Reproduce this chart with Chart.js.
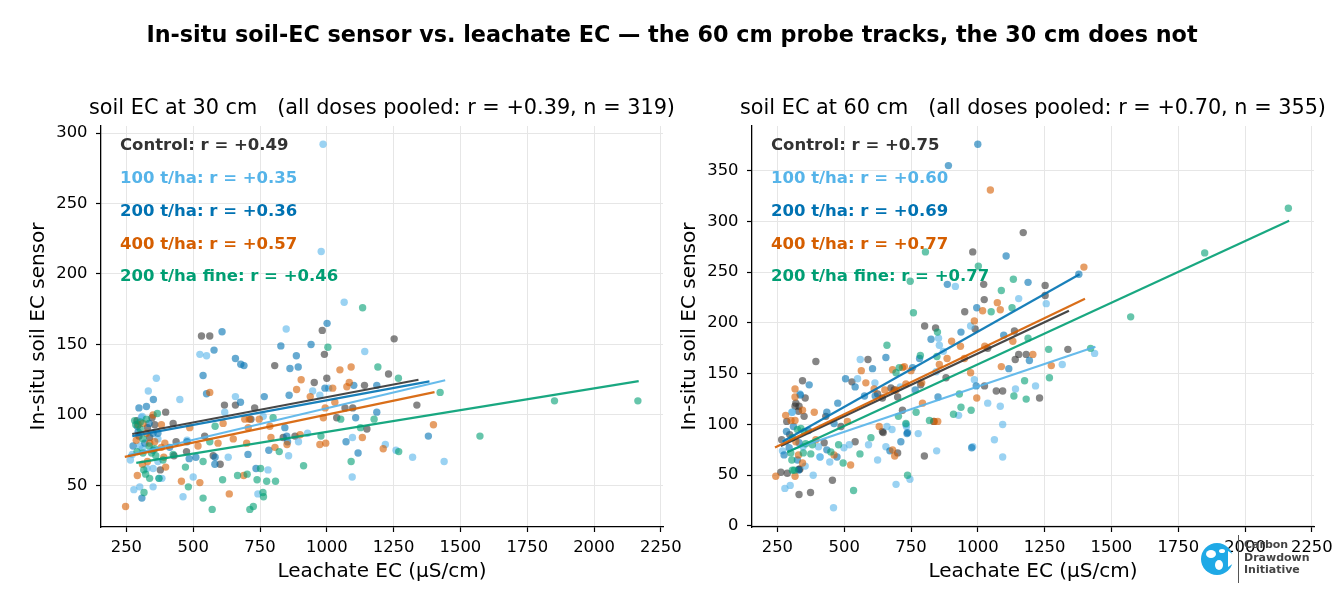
<!DOCTYPE html>
<html>
<head>
<meta charset="utf-8">
<script src="https://cdn.jsdelivr.net/npm/chart.js@4.4.1/dist/chart.umd.min.js"></script>
<style>
  html, body { margin: 0; padding: 0; background: #fff; }
  body { width: 1344px; height: 612px; position: relative; overflow: hidden; font-family: "DejaVu Sans", sans-serif; }
  .panel { position: absolute; top: 0; height: 612px; }
  #mainTitle { position: absolute; top: 21px; left: 0; width: 1344px; text-align: center;
    font: bold 22.3px "DejaVu Sans"; color: #000; z-index: 5; }
  #logo { position: absolute; left: 1199px; top: 534px; width: 140px; height: 52px; z-index: 5; }
  #logo .txt { position: absolute; left: 45px; top: 5px; font: 600 11px "DejaVu Sans"; line-height: 12.7px; color: #444; }
  #logo .bar { position: absolute; left: 39px; top: 1px; width: 1px; height: 48px; background: #555; }
</style>
</head>
<body>
<div id="mainTitle">In-situ soil-EC sensor vs. leachate EC — the 60 cm probe tracks, the 30 cm does not</div>
<div class="panel" style="left:0;width:700px"><canvas id="chart30" width="700" height="612"></canvas></div>
<div class="panel" style="left:672px;width:672px"><canvas id="chart60" width="672" height="612"></canvas></div>
<div id="logo">
  <svg width="40" height="50" style="position:absolute;left:0;top:0">
    <circle cx="18" cy="25" r="16" fill="#1fa9e6"/>
    <path d="M29 17 L35 21 L35 29 L29 33 Z" fill="#fff"/>
    <ellipse cx="12" cy="20" rx="5" ry="4" fill="#fff"/>
    <ellipse cx="20" cy="31" rx="4" ry="5" fill="#fff"/>
    <ellipse cx="23" cy="17" rx="3" ry="2" fill="#fff"/>
  </svg>
  <div class="bar"></div>
  <div class="txt">Carbon<br>Drawdown<br>Initiative</div>
</div>
<script>
// dose groups, in plotting order
const groupNames = ['Control', '100 t/ha', '200 t/ha', '400 t/ha', '200 t/ha fine'];
const groupColors = ['#333333', '#56B4E9', '#0072B2', '#D55E00', '#009E73'];

const xTicks = [250, 500, 750, 1000, 1250, 1500, 1750, 2000, 2250];
const yTicks30 = [50, 100, 150, 200, 250, 300];
const yTicks60 = [0, 50, 100, 150, 200, 250, 300, 350];

const rLabels30 = ['+0.49', '+0.35', '+0.36', '+0.57', '+0.46'];
const rLabels60 = ['+0.75', '+0.60', '+0.69', '+0.77', '+0.77'];

// [leachate EC, sensor EC] – 30 cm probe
const ctrl30 = [[983,160],[531,156],[562,156],[617,107],[658,107],[730,105],[805,135],[991,143],[953,123],[1000,126],[1231,129],[1141,121],[1068,105],[1097,105],[1037,98],[1150,90],[881,85],[837,84],[601,65],[475,74],[428,71],[436,81],[377,61],[425,94],[397,102],[543,85],[575,71],[716,97],[1252,154],[1337,107],[290,96],[329,91],[346,98],[356,93],[337,84],[297,85]];
const t100_30 = [[986,292],[979,216],[1065,180],[848,161],[525,143],[550,142],[1142,145],[362,126],[332,117],[450,111],[658,113],[618,102],[947,117],[974,114],[1007,119],[1095,56],[1096,84],[1219,79],[894,81],[857,71],[780,61],[742,44],[500,56],[462,42],[631,70],[383,55],[762,99],[928,87],[1321,70],[1439,67],[1259,75],[309,99],[368,83],[300,78],[477,82],[272,72],[265,68],[327,62],[350,62],[350,49],[300,49],[278,47],[306,98],[310,76],[368,67],[372,55]];
const t200_30 = [[1001,165],[608,159],[578,146],[828,149],[941,150],[658,140],[678,136],[690,135],[886,142],[862,133],[893,134],[537,128],[297,105],[325,106],[351,111],[550,115],[677,109],[766,113],[993,119],[859,114],[1101,121],[1187,121],[1108,98],[1187,102],[1072,81],[1117,73],[850,85],[783,75],[735,62],[582,70],[581,65],[510,70],[485,69],[477,81],[705,72],[843,91],[853,81],[291,92],[294,88],[350,87],[368,87],[275,78],[412,77],[308,41],[335,94],[1380,85],[319,80],[350,75]];
const t400_30 = [[562,116],[904,125],[887,118],[938,113],[1022,119],[1049,132],[1091,134],[1084,123],[1075,120],[1030,109],[994,105],[1133,84],[1211,76],[996,80],[974,79],[900,86],[851,79],[806,77],[791,84],[689,57],[635,44],[525,52],[456,53],[390,70],[397,63],[487,91],[612,94],[593,80],[650,83],[700,80],[518,78],[693,97],[710,97],[747,97],[706,91],[787,92],[987,98],[1399,93],[350,100],[312,94],[381,93],[325,87],[287,82],[356,81],[394,80],[381,77],[310,65],[291,57],[247,35],[294,93],[337,80],[329,67]];
const fine30 = [[1134,176],[1004,148],[1191,134],[1052,97],[1177,97],[1126,91],[978,85],[1091,67],[913,64],[822,74],[752,62],[775,53],[808,53],[761,45],[763,42],[725,35],[712,33],[702,58],[666,57],[571,33],[537,41],[482,49],[471,63],[537,67],[610,54],[372,55],[582,92],[562,81],[799,98],[1268,126],[1424,116],[1269,74],[739,54],[1852,110],[2164,110],[1573,85],[366,101],[302,95],[302,90],[312,83],[335,78],[312,73],[344,73],[360,71],[387,68],[425,72],[322,58],[337,55],[316,45],[285,93],[325,97],[356,76],[315,61],[290,74],[281,96]];

// 60 cm probe
const ctrl60 = [[1170,289],[981,270],[1022,238],[1024,223],[951,211],[801,197],[842,195],[990,194],[1137,192],[1181,169],[1140,164],[1153,169],[1037,175],[589,164],[394,162],[344,143],[354,126],[316,118],[350,108],[529,142],[675,136],[786,139],[881,146],[1025,138],[1069,133],[1093,133],[1252,237],[1252,227],[1337,174],[1231,126],[646,92],[625,130],[687,134],[643,126],[700,127],[718,114],[643,93],[700,72],[541,83],[456,45],[374,33],[331,31],[263,53],[287,52],[331,56],[319,121],[331,118],[329,113],[285,103],[296,90],[266,85],[334,56],[431,108],[488,98],[425,82],[800,69],[835,103]];
const t100_60 = [[916,236],[1153,224],[853,185],[973,197],[856,178],[871,172],[560,164],[306,112],[550,145],[710,137],[987,144],[1037,121],[1084,118],[1141,135],[1216,138],[928,109],[1256,219],[844,152],[1316,159],[1093,100],[1062,85],[731,100],[777,91],[615,141],[733,98],[660,98],[679,95],[656,78],[625,65],[591,80],[499,77],[460,18],[446,63],[409,68],[384,50],[298,40],[278,37],[334,130],[304,112],[281,83],[404,78],[346,78],[269,74],[410,68],[354,59],[519,80],[694,41],[746,46],[846,74],[981,78],[1093,68],[1437,170]];
const t200_60 = [[1000,376],[890,355],[1106,266],[886,238],[1188,240],[996,215],[825,184],[937,191],[1097,188],[1116,155],[782,165],[656,166],[369,139],[336,129],[435,112],[476,121],[505,145],[541,137],[606,155],[576,128],[766,134],[851,127],[994,138],[756,156],[737,92],[735,91],[712,83],[671,74],[473,68],[310,98],[366,94],[284,93],[331,82],[294,77],[275,70],[325,65],[329,55],[435,75],[462,101],[616,128],[977,77],[1378,248],[1193,163]];
const t400_60 = [[1047,331],[1073,220],[1018,212],[902,182],[987,202],[1131,182],[1206,169],[1088,157],[885,165],[316,135],[316,127],[281,109],[388,112],[564,153],[581,141],[612,135],[652,134],[694,134],[731,140],[790,141],[973,151],[996,126],[1084,213],[935,177],[950,165],[856,159],[725,157],[1026,177],[1275,158],[793,121],[837,103],[850,103],[718,156],[750,153],[631,98],[689,69],[524,60],[462,70],[244,49],[316,49],[344,114],[301,104],[316,104],[319,83],[394,85],[329,70],[344,62],[512,103],[681,154],[681,75],[1397,255]];
const fine60 = [[804,270],[1002,256],[747,241],[1133,243],[1088,232],[1128,215],[1050,211],[759,210],[849,191],[1188,185],[847,167],[785,168],[660,178],[931,130],[1135,128],[1181,125],[1175,143],[937,117],[975,114],[909,110],[706,156],[1265,174],[1268,146],[769,112],[819,104],[694,151],[703,108],[600,87],[559,71],[496,62],[535,35],[450,73],[479,80],[306,55],[325,95],[338,96],[350,93],[306,87],[356,81],[381,80],[300,72],[347,72],[375,71],[304,65],[313,55],[731,101],[737,50],[2162,313],[1849,269],[1572,206],[1422,175]];

// least-squares fit lines per group: [x0, y0, x1, y1]
const fit30 = [[272,86.5,1343,125.0],[256,71.4,1443,124.6],[272,85.0,1384,123.8],[244,70.2,1403,116.2],[287,66.0,2167,124.0]];
const fit60 = [[263,78.9,1341,212.0],[294,74.3,1440,176.5],[269,83.0,1381,248.0],[241,77.2,1401,223.8],[287,72.7,2165,300.7]];

function rgba(hex, a) {
  const n = parseInt(hex.slice(1), 16);
  return `rgba(${n >> 16},${(n >> 8) & 255},${n & 255},${a})`;
}

function buildDatasets(groups, fits) {
  const ds = [];
  groups.forEach((pts, i) => {
    ds.push({
      data: pts.map(p => ({x: p[0], y: p[1]})),
      backgroundColor: rgba(groupColors[i], 0.6),
      borderWidth: 0,
      pointRadius: 3.7,
      order: 20 - i
    });
  });
  fits.forEach((f, i) => {
    ds.push({
      data: [{x: f[0], y: f[1]}, {x: f[2], y: f[3]}],
      showLine: true,
      borderColor: rgba(groupColors[i], 0.9),
      borderWidth: 2.2,
      pointRadius: 0,
      order: 10 - i
    });
  });
  return ds;
}

const panelText = {
  id: 'panelText',
  afterDraw(chart, args, opts) {
    const {ctx, chartArea: a} = chart;
    ctx.save();
    ctx.textBaseline = 'middle';
    ctx.textAlign = 'center';
    ctx.fillStyle = '#000';
    ctx.font = '20.8px "DejaVu Sans"';
    ctx.fillText(opts.title, (a.left + a.right) / 2, a.top - 17);
    ctx.textAlign = 'left';
    ctx.font = 'bold 16.5px "DejaVu Sans"';
    opts.rs.forEach((r, i) => {
      ctx.fillStyle = groupColors[i];
      ctx.fillText(groupNames[i] + ': r = ' + r, a.left + 19, a.top + 20 + i * 32.8);
    });
    ctx.restore();
  }
};

function makeChart(id, groups, fits, yMin, yMax, yTicks, yWidth, yTitlePad, rightPad, title, rs) {
  const tickFont = {family: 'DejaVu Sans', size: 16.4};
  const titleFont = {family: 'DejaVu Sans', size: 20};
  return new Chart(document.getElementById(id), {
    type: 'scatter',
    data: {datasets: buildDatasets(groups, fits)},
    plugins: [panelText],
    options: {
      responsive: false,
      animation: false,
      layout: {padding: {top: 126, right: rightPad, bottom: 0, left: 0}},
      plugins: {
        legend: {display: false},
        tooltip: {enabled: false},
        panelText: {title: title, rs: rs}
      },
      scales: {
        x: {
          type: 'linear', min: 155, max: 2258,
          afterBuildTicks: s => { s.ticks = xTicks.map(v => ({value: v})); },
          afterFit: s => { s.height = 85; s.paddingLeft = 0; s.paddingRight = 0; },
          ticks: {font: tickFont, color: '#000', padding: 6, maxRotation: 0, autoSkip: false, callback: v => String(v)},
          grid: {color: '#e6e6e6', lineWidth: 1, tickColor: '#000', tickLength: 5, tickWidth: 1.2},
          border: {color: '#000', width: 1.3},
          title: {display: true, text: 'Leachate EC (µS/cm)', font: titleFont, color: '#000', padding: {top: 0, bottom: 28}}
        },
        y: {
          type: 'linear', min: yMin, max: yMax,
          afterBuildTicks: s => { s.ticks = yTicks.map(v => ({value: v})); },
          afterFit: s => { s.width = yWidth; s.paddingTop = 0; s.paddingBottom = 0; },
          ticks: {font: tickFont, color: '#000', padding: 8.5, autoSkip: false, callback: v => String(v)},
          grid: {color: '#e6e6e6', lineWidth: 1, tickColor: '#000', tickLength: 5, tickWidth: 1.2},
          border: {color: '#000', width: 1.3},
          title: {display: true, text: 'In-situ soil EC sensor', font: titleFont, color: '#000', padding: {top: yTitlePad, bottom: 0}}
        }
      }
    }
  });
}

makeChart('chart30', [ctrl30, t100_30, t200_30, t400_30, fine30], fit30, 20.5, 305, yTicks30, 101, 27, 37,
  'soil EC at 30 cm   (all doses pooled: r = +0.39, n = 319)', rLabels30);
makeChart('chart60', [ctrl60, t100_60, t200_60, t400_60, fine60], fit60, -1, 394, yTicks60, 80, 6, 30,
  'soil EC at 60 cm   (all doses pooled: r = +0.70, n = 355)', rLabels60);
</script>
</body>
</html>
